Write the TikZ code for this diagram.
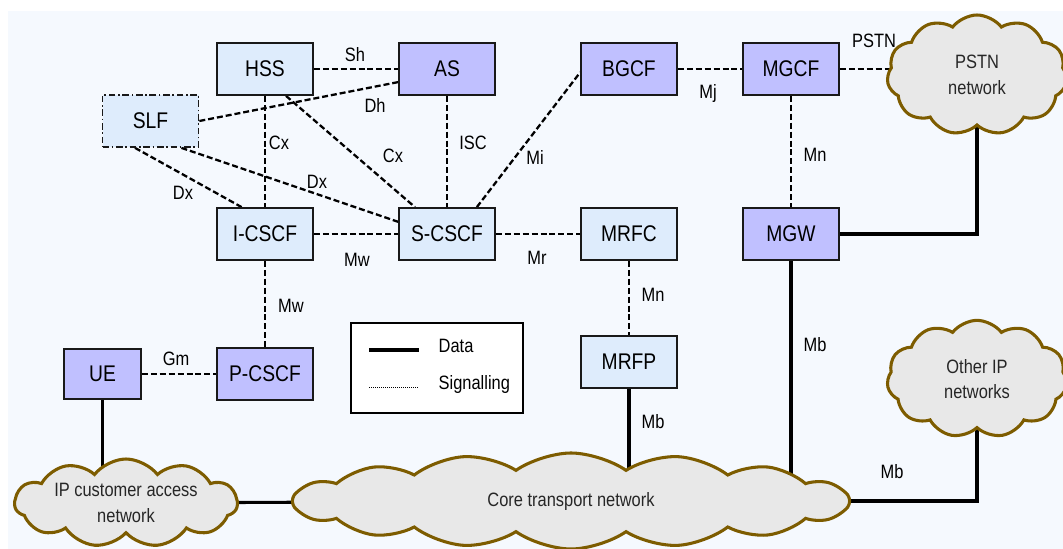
\documentclass[tikz,border=0pt]{standalone}
\usepackage{fontspec}
\setmainfont{Liberation Sans}[FakeStretch=0.85]
\usetikzlibrary{shapes.symbols}
\definecolor{paper}{RGB}{245,249,254}
\definecolor{lightbox}{RGB}{222,236,252}
\definecolor{darkbox}{RGB}{192,192,255}
\definecolor{cloudfill}{RGB}{232,232,232}
\definecolor{cloudline}{RGB}{125,92,0}
\pgfdeclarelayer{paperlayer}
\pgfdeclarelayer{wirelayer}
\pgfsetlayers{paperlayer,wirelayer,main}
\tikzset{
    entity/.style={draw=black!90, line width=1.3pt, minimum width=72pt, minimum height=39pt, inner sep=0pt, font=\fontsize{17}{19}\selectfont},
    home/.style={entity, fill=lightbox},
    visited/.style={entity, fill=darkbox},
    netcloud/.style={cloud, cloud ignores aspect, cloud puff arc=105, draw=cloudline, line width=2.3pt, fill=cloudfill, inner sep=0pt, align=center, text=black!85, font=\fontsize{14.5}{19}\selectfont},
    iface/.style={font=\fontsize{14.5}{16}\selectfont},
    siglink/.style={line width=1.7pt, dash pattern=on 4.5pt off 2.2pt},
    datalink/.style={line width=2.3pt},
}

\begin{document}
\begin{tikzpicture}[x=0.75pt, y=-0.75pt]
            \useasboundingbox (0,0) rectangle (1063,549);

            \node[home] (hss) at (265,69) {HSS};
            \node[visited] (as) at (447,69) {AS};
            \node[home, dash pattern=on 5pt off 2pt on 1.2pt off 2pt] (slf) at (150.5,121) {SLF};
            \node[home] (icscf) at (265,234) {I-CSCF};
            \node[home] (scscf) at (447,234) {S-CSCF};
            \node[visited] (bgcf) at (629,69) {BGCF};
            \node[visited] (mgcf) at (791,69) {MGCF};
            \node[home] (mrfc) at (629,234) {MRFC};
            \node[visited] (mgw) at (791,234) {MGW};
            \node[visited, minimum width=57.75pt, minimum height=37.5pt] (ue) at (102.5,374) {UE};
            \node[visited] (pcscf) at (265,374) {P-CSCF};
            \node[home] (mrfp) at (629,362) {MRFP};

            \node[netcloud, cloud puffs=11, minimum width=135pt, minimum height=90pt] (pstn) at (977,75) {PSTN\\network};
            \node[netcloud, cloud puffs=11, minimum width=135pt, minimum height=88pt] (other) at (977,379) {Other IP\\networks};
            \node[netcloud, cloud puffs=11, minimum width=167pt, minimum height=66pt] (ipnet) at (126,503) {IP customer access\\network};
            \node[netcloud, cloud puffs=16, cloud puff arc=70, minimum width=418pt, minimum height=72pt] (core) at (571,501) {Core transport network};

            \node[iface] (sh) at (355,55) {Sh};
            \node[iface] (dh) at (375,105) {Dh};
            \node[iface] (cxa) at (279,143) {Cx};
            \node[iface] (cxb) at (393,156) {Cx};
            \node[iface] (isc) at (473,143) {ISC};
            \node[iface] (dxa) at (183,193) {Dx};
            \node[iface] (dxb) at (317,182) {Dx};
            \node[iface] (mwa) at (357,260) {Mw};
            \node[iface] (mi) at (535,157) {Mi};
            \node[iface] (mj) at (708,94) {Mj};
            \node[iface] (pstnlabel) at (874,41) {PSTN};
            \node[iface] (mna) at (815,155) {Mn};
            \node[iface] (mr) at (537,258) {Mr};
            \node[iface] (mwb) at (291,306) {Mw};
            \node[iface] (gm) at (176,359) {Gm};
            \node[iface] (mnb) at (653,295) {Mn};
            \node[iface] (mba) at (815,345) {Mb};
            \node[iface] (mbb) at (653,422) {Mb};
            \node[iface] (mbc) at (892,472) {Mb};

            \draw[line width=1.3pt, fill=white] (351,323) rectangle (523,413);
            \coordinate (datafrom) at (369,350);
            \coordinate (datato) at (419,350);
            \coordinate (sigfrom) at (369,387);
            \coordinate (sigto) at (419,387);
            \draw[datalink] (datafrom) -- (datato);
            \draw[line width=0.5pt, dash pattern=on 1pt off 0.5pt] (sigfrom) -- (sigto);
            \node[iface, anchor=west] (datalabel) at (434,346) {Data};
            \node[iface, anchor=west] (siglabel) at (434,384) {Signalling};

            \begin{pgfonlayer}{paperlayer}
                \fill[paper] (8,11) rectangle (1063,549);
            \end{pgfonlayer}

            \begin{pgfonlayer}{wirelayer}
                \draw[siglink] (hss) -- (as);
                \draw[siglink] (slf.east) -- (as.195);
                \draw[siglink] (hss) -- (icscf);
                \draw[siglink] (hss.-52) -- (scscf.140);
                \draw[siglink] (as) -- (scscf);
                \draw[siglink] (slf.-120) -- (icscf.131);
                \draw[siglink] (slf.-41) -- (scscf.166);
                \draw[siglink] (icscf) -- (scscf);
                \draw[siglink] (scscf) -- (mrfc);
                \draw[siglink] (scscf.42) -- (bgcf.184);
                \draw[siglink] (bgcf) -- (mgcf);
                \draw[siglink] (mgcf.east) -- (mgcf.east -| pstn.center);
                \draw[siglink] (mgcf) -- (mgw);
                \draw[siglink] (mrfc) -- (mrfp);
                \draw[siglink] (icscf) -- (pcscf);
                \draw[siglink] (ue) -- (pcscf);

                \draw[datalink] (mgw.east) -| (pstn.center);
                \draw[datalink] (ue.south) -- (ue.south |- ipnet.center);
                \draw[datalink] (ipnet.center) -- (core.center);
                \draw[datalink] (mrfp.south) -- (mrfp.south |- core.center);
                \draw[datalink] (mgw.south) -- (mgw.south |- core.center);
                \draw[datalink] (core.center) -| (other.center);
            \end{pgfonlayer}
\end{tikzpicture}
\end{document}
